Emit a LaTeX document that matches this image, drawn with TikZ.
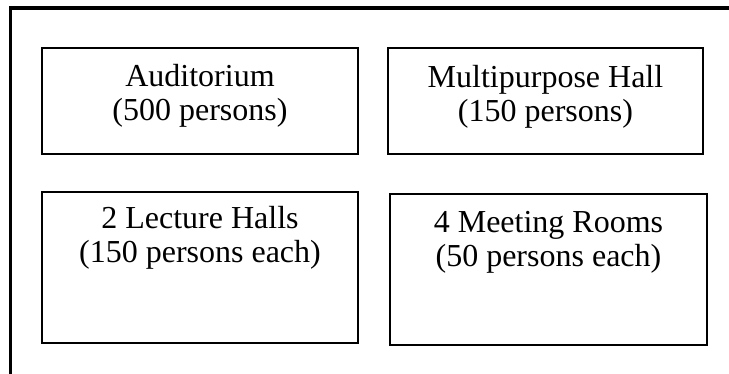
\documentclass[tikz,border=0pt]{standalone}
\usepackage{fontspec}
\setmainfont{Liberation Serif}
\begin{document}
\begin{tikzpicture}[x=1pt, y=-1pt,
    room/.style={draw, line width=1.5pt, inner sep=0pt},
    roomtext/.style={align=center, inner sep=0pt, anchor=base,
      font=\fontsize{32}{34}\selectfont}]
    \useasboundingbox (0,0) rectangle (729,374);
    % outer frame, only top and left edge inside the picture
    \draw[line width=3.5pt] (10.5,374) -- (10.5,8) -- (729,8);
    % rooms
    \node[room, minimum width=316pt, minimum height=106pt] (audit) at (200,101) {};
    \node[room, minimum width=315pt, minimum height=106pt] (multi) at (545.5,101) {};
    \node[room, minimum width=316pt, minimum height=151pt] (lecture) at (200,267.5) {};
    \node[room, minimum width=317pt, minimum height=151pt] (meeting) at (548.5,269.5) {};
    % base anchor sits on the last line
    \node[roomtext] (audittext) at ([yshift=-73pt]audit.north) {Auditorium\\(500 persons)};
    \node[roomtext] (multitext) at ([yshift=-74pt]multi.north) {Multipurpose Hall\\(150 persons)};
    \node[roomtext] (lecturetext) at ([yshift=-71pt]lecture.north) {2 Lecture Halls\\(150 persons each)};
    \node[roomtext] (meetingtext) at ([yshift=-73pt]meeting.north) {4 Meeting Rooms\\(50 persons each)};
\end{tikzpicture}
\end{document}
